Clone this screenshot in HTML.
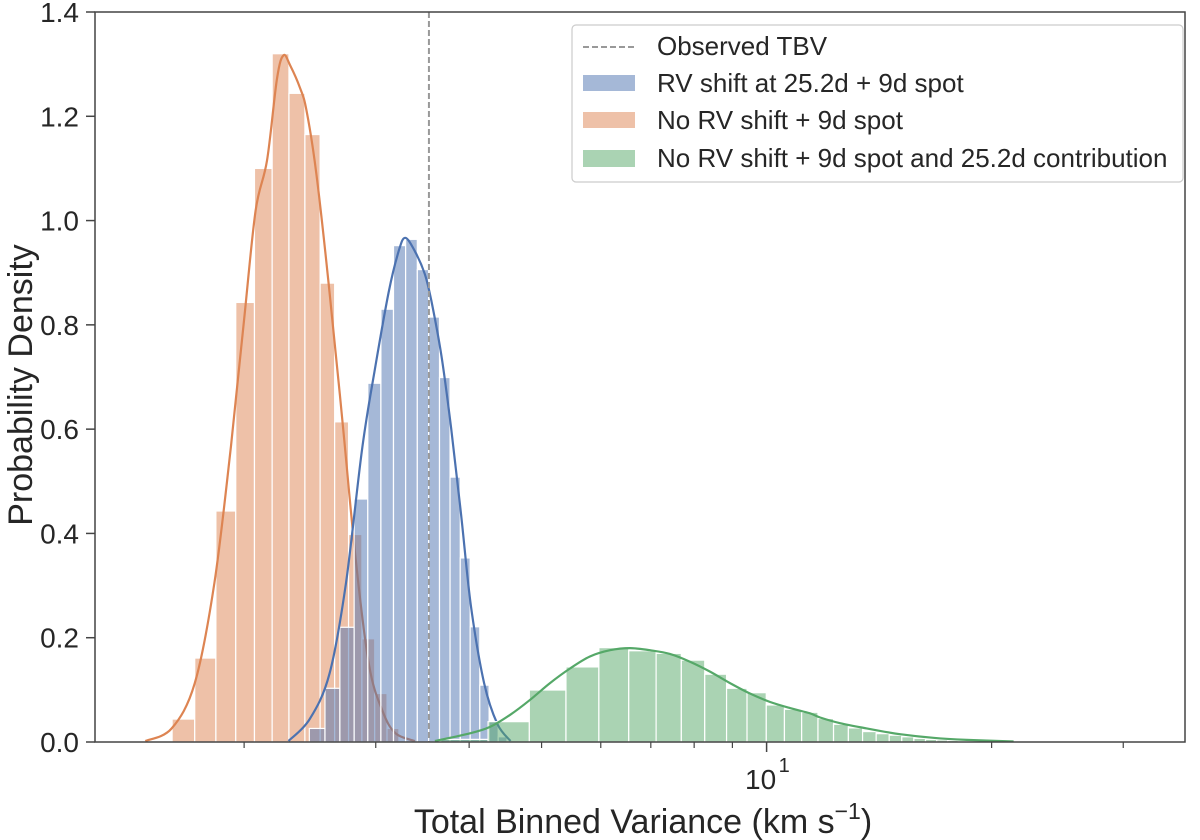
<!DOCTYPE html>
<html><head><meta charset="utf-8"><style>
body{margin:0;background:#fff}
svg text{font-family:"Liberation Sans",Arial,sans-serif;fill:#262626}
</style></head><body>
<svg id="chart" width="1200" height="840" viewBox="0 0 1200 840" style="position:absolute;left:0;top:0"></svg>
<script>
// ---- data ----
const orangeStart = 1.602, orangeWidth = 0.1157;
const orangeHeights = [0.044,0.161,0.443,0.843,1.10,1.32,1.244,1.165,0.88,0.614,0.398,0.198,0.093,0.026];
const blueStart = 2.445, blueWidth = 0.1206;
const blueHeights = [0.026,0.103,0.22,0.466,0.688,0.83,0.952,0.964,0.906,0.815,0.699,0.508,0.353,0.221,0.109,0.04,0.01];
const greenStart = 3.665, greenWidth = 0.575;
const greenHeights = [0.005,0.039,0.0997,0.144,0.181,0.175,0.170,0.157,0.130,0.103,0.0946,0.071,0.0627,0.057,0.045,0.034,0.027,0.020,0.016,0.013,0.010,0.007,0.005,0.004,0.003,0.002,0.0015,0.001,0.001,0.0005,0.0005,0.0005,0.0004,0.0003,0.0003,0.0002,0.0002,0.0002,0.0001,0.0001];
const orangeKdeX = [1.475,1.600,1.718,1.825,1.920,2.000,2.072,2.146,2.213,2.258,2.304,2.375,2.424,2.499,2.602,2.710,2.821,2.938,3.060,3.186,3.385];
const orangeKdeY = [0.002,0.026,0.113,0.305,0.566,0.810,1.019,1.115,1.272,1.317,1.298,1.255,1.211,1.089,0.863,0.610,0.349,0.148,0.061,0.017,0.002];
const blueKdeX = [2.293,2.448,2.602,2.737,2.879,2.999,3.122,3.219,3.285,3.385,3.490,3.562,3.672,3.785,3.902,4.022,4.189,4.362,4.543];
const blueKdeY = [0.002,0.044,0.131,0.305,0.566,0.723,0.863,0.941,0.967,0.941,0.897,0.845,0.741,0.601,0.436,0.261,0.113,0.035,0.002];
const greenKdeX = [3.60,4.010,4.266,4.537,4.827,5.131,5.458,5.803,6.173,6.565,6.982,7.424,7.898,8.400,8.933,9.501,10.10,10.75,11.43,11.79,12.54,13.61,15.08,16.71,18.52,21.4];
const greenKdeY = [0.002,0.0166,0.029,0.052,0.081,0.113,0.141,0.164,0.176,0.180,0.176,0.169,0.154,0.135,0.113,0.093,0.077,0.065,0.055,0.047,0.036,0.026,0.015,0.008,0.004,0.001];
const observedTBV = 3.534;
const yTicks = [0,0.2,0.4,0.6,0.8,1.0,1.2,1.4];
const yTickLabels = ["0.0","0.2","0.4","0.6","0.8","1.0","1.2","1.4"];
const xMinorTicks = [2,3,4,5,6,7,8,9,20,30];
const xMajorTicks = [10];
// ---- axes ----
const L=95,R=1185,T=12,B=742;
const X = v => 766.6 + 747.5*Math.log10(v/10);
const Y = v => B - (B-T)*v/1.4;
const NS="http://www.w3.org/2000/svg";
const svg=document.getElementById('chart');
function mk(tag,attrs,parent){const e=document.createElementNS(NS,tag);for(const k in attrs)e.setAttribute(k,attrs[k]);(parent||svg).appendChild(e);return e;}
const clip=mk('clipPath',{id:'pc'});mk('rect',{x:L,y:T,width:R-L,height:B-T},clip);
const plot=mk('g',{'clip-path':'url(#pc)'});


function hist(start,w,hs,fill,name){
  const g=mk('g',{},plot);
  
  
  hs.forEach((h,i)=>{
    const x0=X(start+i*w),x1=X(start+(i+1)*w);
    const r=mk('rect',{x:x0,y:Y(h),width:x1-x0,height:Y(0)-Y(h),fill:fill,stroke:'#fff','stroke-width':1.2},g);
    
    
  });
}
function line(xs,ys,col,name){
  const P=xs.map((x,i)=>[X(x),Y(ys[i])]);
  let d='M'+P[0][0].toFixed(1)+','+P[0][1].toFixed(1);
  for(let i=0;i<P.length-1;i++){
    const p0=P[Math.max(0,i-1)],p1=P[i],p2=P[i+1],p3=P[Math.min(P.length-1,i+2)];
    const c1=[p1[0]+(p2[0]-p0[0])/6,p1[1]+(p2[1]-p0[1])/6];
    const c2=[p2[0]-(p3[0]-p1[0])/6,p2[1]-(p3[1]-p1[1])/6];
    d+='C'+c1.map(v=>v.toFixed(1)).join(',')+' '+c2.map(v=>v.toFixed(1)).join(',')+' '+p2[0].toFixed(1)+','+p2[1].toFixed(1);
  }
  const p=mk('path',{d:d,fill:'none',stroke:col,'stroke-width':2.2,'stroke-linejoin':'round'},plot);
  
  
}
hist(orangeStart,orangeWidth,orangeHeights,'rgba(221,132,82,0.5)','orange-histogram');
line(orangeKdeX,orangeKdeY,'#dd8452','orange-kde-line');
hist(blueStart,blueWidth,blueHeights,'rgba(76,114,176,0.5)','blue-histogram');
line(blueKdeX,blueKdeY,'#4c72b0','blue-kde-line');
hist(greenStart,greenWidth,greenHeights,'rgba(85,168,104,0.5)','green-histogram');
line(greenKdeX,greenKdeY,'#55a868','green-kde-line');
const tbv=mk('line',{x1:X(observedTBV),x2:X(observedTBV),y1:T,y2:B,stroke:'#999','stroke-width':2,'stroke-dasharray':'6,3'},plot);


const fr=mk('rect',{x:L,y:T,width:R-L,height:B-T,fill:'none',stroke:'#444','stroke-width':1.5});


yTicks.forEach((v,i)=>{
  const t=mk('line',{x1:L-9,x2:L,y1:Y(v),y2:Y(v),stroke:'#444','stroke-width':1.5});
  
  
  const tx=mk('text',{x:L-16,y:Y(v)+10,'text-anchor':'end','font-size':28});
  tx.textContent=yTickLabels[i];
  
  
});
xMinorTicks.forEach(v=>{
  const t=mk('line',{x1:X(v),x2:X(v),y1:B,y2:B+6,stroke:'#444','stroke-width':1.2});
  
  
});
xMajorTicks.forEach(v=>{
  const t=mk('line',{x1:X(v),x2:X(v),y1:B,y2:B+10,stroke:'#444','stroke-width':1.5});
  
  
  const tx=mk('text',{x:X(v)-6,y:B+47,'text-anchor':'middle','font-size':28});
  tx.textContent='10';
  
  
  const sp=mk('text',{x:X(v)+12,y:B+30,'font-size':20});
  sp.textContent='1';
  
  
});
</script>
<svg width="1200" height="840" style="position:absolute;left:0;top:0">
<text x="643" y="833" text-anchor="middle" font-size="34">Total Binned Variance (km s<tspan font-size="23" dy="-14">−1</tspan><tspan dy="14">)</tspan></text>
<text transform="translate(32,385) rotate(-90)" text-anchor="middle" font-size="34">Probability Density</text>
<g>
<rect x="572" y="25" width="611" height="157" rx="4" fill="#fff" fill-opacity="0.85" stroke="#ccc" stroke-width="1.2"/>
<line x1="583" x2="636" y1="47" y2="47" stroke="#999" stroke-width="2" stroke-dasharray="6,3"/>
<text x="657" y="55" font-size="26">Observed TBV</text>
<rect x="583" y="75" width="52" height="16" fill="rgba(76,114,176,0.5)"/>
<text x="657" y="92" font-size="26">RV shift at 25.2d + 9d spot</text>
<rect x="583" y="112" width="52" height="16" fill="rgba(221,132,82,0.5)"/>
<text x="657" y="129" font-size="26">No RV shift + 9d spot</text>
<rect x="583" y="150" width="52" height="17" fill="rgba(85,168,104,0.5)"/>
<text x="657" y="167" font-size="26">No RV shift + 9d spot and 25.2d contribution</text>
</g>
</svg>
</body></html>
